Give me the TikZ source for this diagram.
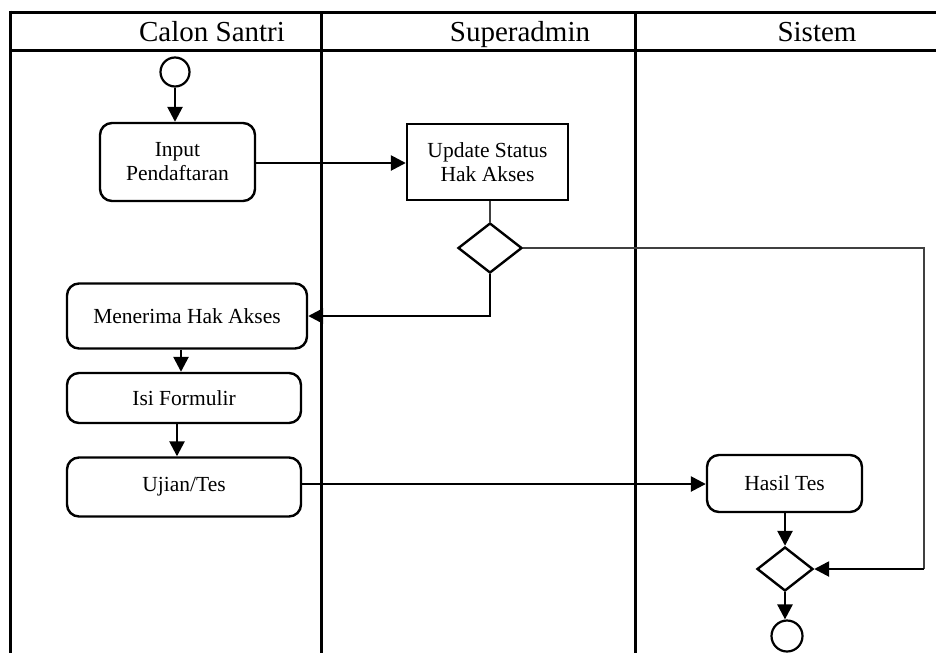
\documentclass[tikz,border=0pt]{standalone}
\usepackage{fontspec}
\setmainfont{Liberation Serif}
\usetikzlibrary{arrows.meta,shapes.geometric}
\begin{document}
\begin{tikzpicture}[x=1pt,y=-1pt,
  lane/.style={line width=3pt},
  head/.style={font=\fontsize{29}{32}\selectfont,inner sep=0pt,anchor=base},
  act/.style={draw,line width=2.4pt,rounded corners=12pt,align=center,inner sep=0pt,
    font=\fontsize{21.5}{24}\selectfont},
  plainbox/.style={draw,line width=2.4pt,align=center,inner sep=0pt,
    font=\fontsize{21.5}{24}\selectfont},
  dec/.style={draw,diamond,line width=2.4pt,inner sep=0pt,aspect=1},
  term/.style={draw,circle,line width=2.2pt,inner sep=0pt},
  flow/.style={line width=2.6pt,-{Triangle[length=15pt,width=15pt]}},
  faint/.style={line width=1.3pt,draw=black!75}
]
\useasboundingbox (0,0) rectangle (936,653);
% swimlanes
\draw[lane] (10,12) -- (936,12);
\draw[lane] (10,50) -- (936,50);
\draw[lane] (10,10.5) -- (10,653);
\draw[lane] (321,12) -- (321,653);
\draw[lane] (635,12) -- (635,653);
\node[head] (h1) at (212,41) {Calon Santri};
\node[head] (h2) at (520,41) {Superadmin};
\node[head] (h3) at (817,41) {Sistem};
% nodes
\node[term,minimum size=29pt] (start) at (175,72) {};
\node[act,minimum width=155pt,minimum height=78pt] (inp) at (177.5,162) {Input\\Pendaftaran};
\node[plainbox,minimum width=161pt,minimum height=76pt] (upd) at (487.5,162) {Update Status\\Hak Akses};
\node[dec,minimum width=64pt,minimum height=50pt] (d1) at (490,248) {};
\node[act,minimum width=240pt,minimum height=65pt] (men) at (187,316) {Menerima Hak Akses};
\node[act,minimum width=234pt,minimum height=50pt] (isi) at (184,398) {Isi Formulir};
\node[act,minimum width=234pt,minimum height=59pt] (uji) at (184,487) {Ujian/Tes};
\node[act,minimum width=155pt,minimum height=57pt] (has) at (784.5,483.5) {Hasil Tes};
\node[dec,minimum width=56pt,minimum height=44pt] (d2) at (785,569) {};
\node[term,minimum size=31pt] (end) at (787,636) {};
\coordinate (c1) at (924,569);
% connectors
\draw[flow] (start.south) -- (inp.north -| start.south);
\draw[flow] (inp.east |- 0,163) -- (upd.west |- 0,163);
\draw[faint] (upd.south -| d1.north) -- (d1.north);
\draw[flow] (d1.south) |- (men.east);
\draw[faint] (d1.east) -| (c1);
\draw[flow] (c1) -- (d2.east);
\draw[flow] (men.south -| 181,0) -- (isi.north -| 181,0);
\draw[flow] (isi.south -| 177,0) -- (uji.north -| 177,0);
\draw[flow] (uji.east |- 0,484) -- (has.west |- 0,484);
\draw[flow] (has.south -| d2.north) -- (d2.north);
\draw[flow] (d2.south) -- (end.north -| d2.south);
\end{tikzpicture}
\end{document}
